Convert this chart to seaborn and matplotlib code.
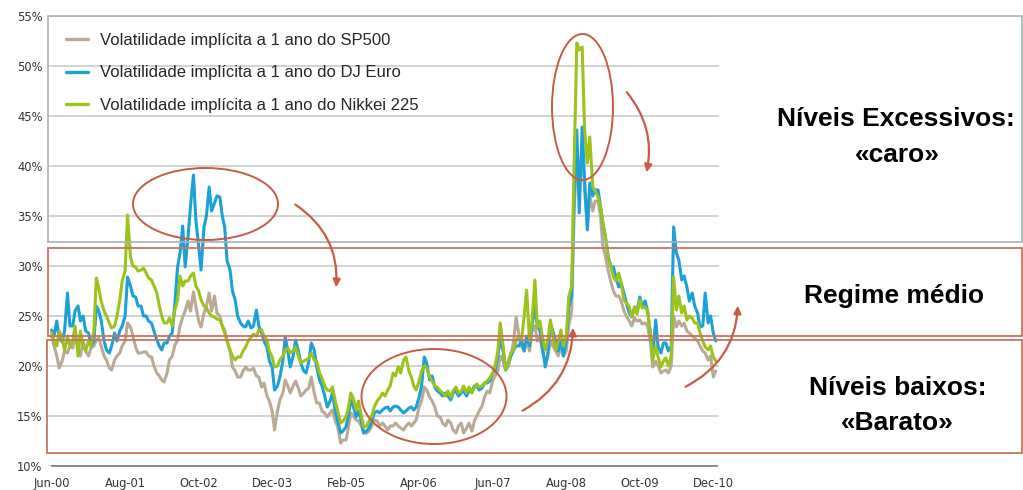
import matplotlib
matplotlib.use("Agg")
import matplotlib.pyplot as plt
import matplotlib.dates as mdates
from matplotlib.patches import Ellipse, Rectangle, FancyArrowPatch
from matplotlib.lines import Line2D
from matplotlib.ticker import FuncFormatter
import numpy as np
import pandas as pd
import seaborn as sns

# Semi-monthly observations (1st and 15th of each month), Jun 2000 - Dec 2010
dates = pd.date_range("2000-06-01", "2010-12-15", freq="SMS")

series_names = [
    "Volatilidade implícita a 1 ano do SP500",
    "Volatilidade implícita a 1 ano do DJ Euro",
    "Volatilidade implícita a 1 ano do Nikkei 225",
]

# 1-year implied volatility, in %
sp500 = [
    # 2000
    23.0, 22.0, 21.0, 19.8, 20.5, 21.5, 21.3, 22.0, 21.8, 23.0, 22.0, 21.0, 22.5, 21.5,
    # 2001
    21.0, 21.8, 22.0, 22.6, 22.8, 22.0, 21.0, 20.6, 19.8, 19.6, 20.6, 21.0,
    21.3, 22.0, 22.5, 24.3, 23.9, 23.0, 21.9, 21.3, 21.3, 21.4, 21.4, 21.0,
    # 2002
    20.9, 20.0, 19.3, 19.0, 18.6, 18.4, 19.3, 20.6, 21.0, 22.0, 22.6, 24.0,
    24.9, 25.5, 26.5, 25.5, 27.4, 26.0, 24.5, 23.9, 25.3, 26.0, 27.3, 25.5,
    # 2003
    27.0, 25.3, 25.0, 24.0, 23.6, 22.5, 21.5, 19.9, 19.5, 18.9, 18.9, 19.5,
    19.9, 19.6, 19.6, 19.8, 19.0, 18.9, 17.9, 18.3, 17.0, 16.5, 15.5, 13.6,
    # 2004
    15.5, 16.6, 17.3, 18.6, 18.0, 17.3, 18.0, 18.5, 17.8, 17.0, 17.3, 17.6,
    17.8, 18.9, 17.3, 16.3, 16.3, 15.5, 15.3, 14.9, 15.3, 15.6, 14.5, 13.9,
    # 2005
    12.3, 12.6, 12.6, 13.8, 15.3, 15.0, 14.6, 14.5, 14.0, 13.3, 13.3, 13.5,
    14.0, 14.6, 14.5, 14.0, 14.3, 14.0, 13.6, 14.0, 14.0, 14.3, 14.0, 13.8,
    # 2006
    13.6, 14.0, 14.3, 14.0, 14.3, 14.6, 15.9, 16.5, 17.9, 17.6, 16.9, 16.5,
    15.9, 15.0, 14.9, 14.3, 14.0, 14.6, 14.3, 13.6, 13.3, 14.0, 14.3, 13.3,
    # 2007
    13.8, 14.3, 13.5, 14.5, 15.0, 15.5, 16.0, 16.9, 17.5, 17.3, 18.5, 19.0,
    19.5, 21.0, 20.5, 19.6, 20.0, 21.0, 22.5, 24.9, 23.0, 22.0, 21.5, 22.5,
    # 2008
    21.5, 23.5, 24.0, 22.5, 23.0, 21.5, 20.5, 21.0, 22.5, 22.0, 21.5, 21.0,
    22.0, 21.0, 21.5, 24.0, 25.5, 35.0, 41.5, 38.0, 42.0, 37.5, 34.0, 37.0,
    # 2009
    35.5, 36.5, 36.5, 35.0, 32.0, 31.0, 29.5, 28.5, 27.5, 27.0, 27.0, 26.5,
    25.5, 25.0, 24.5, 24.0, 24.8, 24.5, 24.6, 24.2, 24.3, 24.0, 22.5, 19.9,
    # 2010
    20.5, 20.0, 19.3, 19.5, 19.6, 19.3, 20.0, 25.0, 23.9, 24.5, 24.0, 24.3,
    23.5, 23.3, 23.0, 22.8, 22.5, 22.0, 21.5, 21.3, 20.6, 21.0, 18.9, 19.5,
]

dj_euro = [
    # 2000
    23.6, 23.0, 24.5, 22.8, 22.4, 23.5, 27.3, 24.0, 24.0, 25.5, 26.0, 24.5, 25.0, 23.5,
    # 2001
    23.3, 22.0, 22.5, 26.0, 25.5, 24.6, 22.5, 21.6, 21.3, 22.0, 23.3, 22.5,
    23.5, 24.0, 25.0, 28.9, 28.0, 27.0, 26.9, 26.0, 26.0, 25.0, 25.0, 24.5,
    # 2002
    24.3, 23.5, 22.6, 22.0, 21.6, 22.3, 22.3, 23.0, 23.3, 26.0, 29.9, 31.3,
    34.0, 29.9, 33.0, 36.0, 39.1, 34.6, 32.0, 29.6, 33.9, 35.0, 37.9, 35.5,
    # 2003
    36.3, 37.0, 36.9, 35.0, 33.9, 30.5, 29.6, 27.5, 26.6, 25.0, 24.3, 24.0,
    23.9, 24.5, 23.8, 24.0, 25.6, 24.0, 23.3, 22.5, 21.9, 20.5, 19.9, 17.6,
    # 2004
    18.0, 18.9, 20.5, 22.9, 21.5, 19.9, 21.0, 22.6, 21.5, 20.3, 19.5, 19.3,
    20.5, 22.3, 21.6, 19.9, 18.6, 18.0, 17.0, 15.9, 16.5, 17.3, 15.5, 14.5,
    # 2005
    13.3, 13.5, 13.9, 15.0, 16.6, 16.0, 14.9, 15.5, 14.5, 13.3, 13.5, 13.8,
    14.5, 15.3, 15.5, 15.3, 15.6, 15.8, 15.9, 15.5, 15.9, 16.0, 15.9, 15.6,
    # 2006
    15.3, 15.5, 15.8, 15.9, 15.6, 15.9, 16.9, 18.0, 20.9, 20.3, 18.6, 19.0,
    17.9, 17.5, 17.3, 17.0, 17.3, 17.0, 16.6, 17.3, 17.5, 17.0, 17.3, 17.5,
    # 2007
    17.0, 17.5, 17.5, 18.0, 18.0, 17.6, 17.8, 18.3, 18.3, 18.5, 19.3, 19.5,
    21.0, 22.6, 21.5, 19.6, 20.5, 21.0, 21.6, 22.0, 22.0, 22.6, 21.5, 23.0,
    # 2008
    22.0, 24.0, 25.9, 24.0, 23.5, 22.0, 19.9, 21.0, 24.3, 23.5, 22.5, 21.5,
    22.5, 21.0, 22.5, 25.9, 27.0, 36.9, 43.6, 35.3, 43.9, 38.6, 33.6, 38.3,
    # 2009
    37.0, 37.6, 37.6, 36.0, 34.3, 33.0, 30.9, 30.0, 29.9, 28.9, 27.9, 28.3,
    27.3, 26.3, 25.3, 24.9, 25.9, 25.5, 26.9, 26.0, 26.5, 25.5, 23.3, 20.9,
    # 2010
    24.6, 21.9, 21.3, 22.3, 22.3, 21.5, 22.0, 33.9, 31.3, 30.6, 28.6, 29.0,
    27.9, 26.5, 27.3, 26.0, 25.3, 23.9, 24.0, 27.3, 24.3, 25.0, 23.3, 22.5,
]

nikkei = [
    # 2000
    23.3, 22.5, 22.0, 23.5, 22.8, 21.5, 23.0, 22.0, 22.5, 24.0, 21.0, 23.5, 22.0, 21.5,
    # 2001
    22.5, 22.0, 23.5, 28.8, 27.8, 26.5, 25.5, 25.0, 24.3, 23.8, 24.0, 25.0,
    26.6, 28.5, 29.5, 35.1, 30.9, 30.0, 29.9, 29.5, 29.6, 29.8, 29.3, 28.8,
    # 2002
    28.6, 28.0, 27.3, 26.0, 25.0, 24.3, 24.3, 24.8, 24.0, 25.5, 26.6, 29.0,
    28.0, 28.5, 28.5, 29.0, 29.3, 28.0, 27.5, 26.6, 26.0, 25.8, 25.3, 25.0,
    # 2003
    24.9, 24.7, 24.6, 24.0, 23.3, 22.5, 21.6, 21.0, 20.6, 20.9, 20.9, 21.5,
    21.9, 22.5, 22.9, 23.2, 23.0, 23.6, 23.6, 23.0, 22.6, 21.5, 20.9, 19.9,
    # 2004
    20.0, 20.6, 21.0, 21.6, 21.8, 21.3, 21.5, 21.9, 21.0, 20.3, 20.5, 20.6,
    20.8, 21.3, 20.6, 20.5, 19.3, 18.8, 18.0, 17.6, 17.5, 17.9, 16.5, 15.5,
    # 2005
    14.3, 14.5, 14.9, 15.8, 17.3, 16.8, 15.6, 16.5, 15.0, 13.9, 14.0, 14.5,
    15.0, 15.9, 16.5, 16.8, 17.3, 17.0, 17.6, 18.0, 19.3, 19.0, 19.9, 19.3,
    # 2006
    20.6, 20.9, 19.5, 18.9, 18.0, 17.6, 18.5, 19.5, 20.0, 19.8, 18.9, 18.5,
    18.0, 17.9, 17.5, 17.3, 17.0, 17.5, 16.9, 17.5, 17.9, 17.3, 17.5, 18.0,
    # 2007
    17.3, 17.9, 17.3, 17.8, 18.2, 17.9, 18.0, 18.3, 18.5, 18.8, 19.3, 20.0,
    21.5, 24.3, 22.0, 19.6, 20.5, 21.3, 21.6, 22.5, 23.0, 22.6, 25.0, 27.6,
    # 2008
    22.5, 24.5, 28.6, 23.9, 24.5, 23.0, 21.6, 22.5, 24.6, 23.0, 21.6, 22.5,
    23.6, 22.0, 23.0, 26.9, 28.0, 40.0, 52.3, 51.6, 51.9, 43.6, 40.3, 42.9,
    # 2009
    37.9, 37.5, 36.9, 36.0, 34.3, 33.0, 30.9, 30.0, 28.9, 28.5, 29.3, 28.3,
    26.6, 26.3, 25.9, 24.9, 25.9, 25.2, 26.6, 25.8, 25.9, 25.5, 23.3, 20.6,
    # 2010
    22.0, 20.9, 19.9, 20.5, 20.8, 20.0, 21.0, 28.9, 25.6, 27.0, 25.3, 26.0,
    24.6, 25.0, 24.8, 24.3, 24.3, 23.3, 22.5, 21.9, 21.6, 22.0, 20.9, 20.5,
]

tick_dates = ["2000-06-01", "2001-08-01", "2002-10-01", "2003-12-01", "2005-02-01",
              "2006-04-01", "2007-06-01", "2008-08-01", "2009-10-01", "2010-12-01"]
tick_labels = ["Jun-00", "Aug-01", "Oct-02", "Dec-03", "Feb-05",
               "Apr-06", "Jun-07", "Aug-08", "Oct-09", "Dec-10"]
y_ticks = [10, 15, 20, 25, 30, 35, 40, 45, 50, 55]

colors = ["#B9A995", "#1AA2D8", "#9CC21C"]

df = pd.concat([
    pd.DataFrame({"date": dates, "vol": vals, "serie": name})
    for name, vals in zip(series_names, [sp500, dj_euro, nikkei])
], ignore_index=True)

sns.set_style("white")
plt.rcParams["font.family"] = ["Liberation Sans", "DejaVu Sans"]

W, H = 1023, 490
fig = plt.figure(figsize=(W / 100, H / 100), dpi=100)
fig.patch.set_facecolor("white")

def px_box(x0, y0, x1, y1):
    return [x0 / W, 1 - y1 / H, (x1 - x0) / W, (y1 - y0) / H]

ax = fig.add_axes(px_box(48, 16, 719, 466))
sns.lineplot(data=df, x="date", y="vol", hue="serie", hue_order=series_names,
             palette=colors, linewidth=2.2, estimator=None, sort=False,
             legend=False, ax=ax)

ax.set_ylim(10, 55)
ax.set_xlim(pd.Timestamp("2000-05-11"), pd.Timestamp("2011-01-03"))
ax.set_yticks(y_ticks)
ax.yaxis.set_major_formatter(FuncFormatter(lambda v, p: f"{v:.0f}%"))
ax.set_xticks(pd.to_datetime(tick_dates))
ax.set_xticklabels(tick_labels)
ax.set_xlabel("")
ax.set_ylabel("")
ax.grid(axis="y", color="#CBCBCB", linewidth=1.2)
ax.grid(axis="x", visible=False)
for side in ["left", "top", "right"]:
    ax.spines[side].set_visible(False)
ax.spines["bottom"].set_color("#7A7A7A")
ax.spines["bottom"].set_linewidth(1.2)
ax.spines["bottom"].set_bounds(mdates.date2num(pd.Timestamp("2000-06-01")),
                               mdates.date2num(pd.Timestamp("2010-12-20")))
ax.tick_params(axis="x", length=4, width=1, color="#7A7A7A", pad=4,
               labelsize=8.3, labelcolor="#333333")
ax.tick_params(axis="y", length=0, pad=4, labelsize=8.3, labelcolor="#333333")
for lab in ax.get_xticklabels() + ax.get_yticklabels():
    lab.set_fontfamily("DejaVu Sans")

handles = [Line2D([0], [0], color=c, linewidth=2.4) for c in colors]
fig.legend(handles, series_names, loc="upper left",
           bbox_to_anchor=(66 / W, 1 - 33 / H), frameon=False, fontsize=12,
           handlelength=1.3, handletextpad=0.75, labelspacing=1.05,
           borderpad=0, borderaxespad=0)

# Annotation layer in pixel units
ov = fig.add_axes([0, 0, 1, 1], zorder=5)
ov.set_xlim(0, W)
ov.set_ylim(H, 0)
ov.axis("off")
ov.patch.set_alpha(0)

red = "#C75B43"
ov.add_patch(Rectangle((48, 16), 974, 226, fill=False, edgecolor="#A7B3B3", linewidth=1.2))
ov.add_patch(Rectangle((48, 248), 974, 88, fill=False, edgecolor="#C9735F", linewidth=1.3))
ov.add_patch(Rectangle((47, 339.5), 975, 113.5, fill=False, edgecolor="#C9735F", linewidth=1.3))

for (cx, cy, w, h) in [(205.5, 204, 145, 72), (434, 396.5, 145, 95), (582.5, 107, 61, 146)]:
    ov.add_patch(Ellipse((cx, cy), w, h, fill=False, edgecolor=red, linewidth=1.4))

for (p0, p1, rad) in [((293, 203), (336, 290), -0.3), ((520, 412), (573, 325), 0.3),
                      ((625, 90), (646, 175), -0.25), ((683, 388), (738, 303), 0.3)]:
    ov.add_patch(FancyArrowPatch(p0, p1, connectionstyle=f"arc3,rad={rad}",
                                 arrowstyle="-|>", mutation_scale=11,
                                 color=red, linewidth=1.6))

txt = dict(ha="center", va="center", fontsize=19, fontweight="bold", color="black")
ov.text(896, 119, "Níveis Excessivos:", **txt)
ov.text(897, 155, "«caro»", **txt)
ov.text(894, 296, "Regime médio", **txt)
ov.text(898, 388, "Níveis baixos:", **txt)
ov.text(897, 423, "«Barato»", **txt)

fig.savefig("out.png", dpi=100, facecolor="white")
